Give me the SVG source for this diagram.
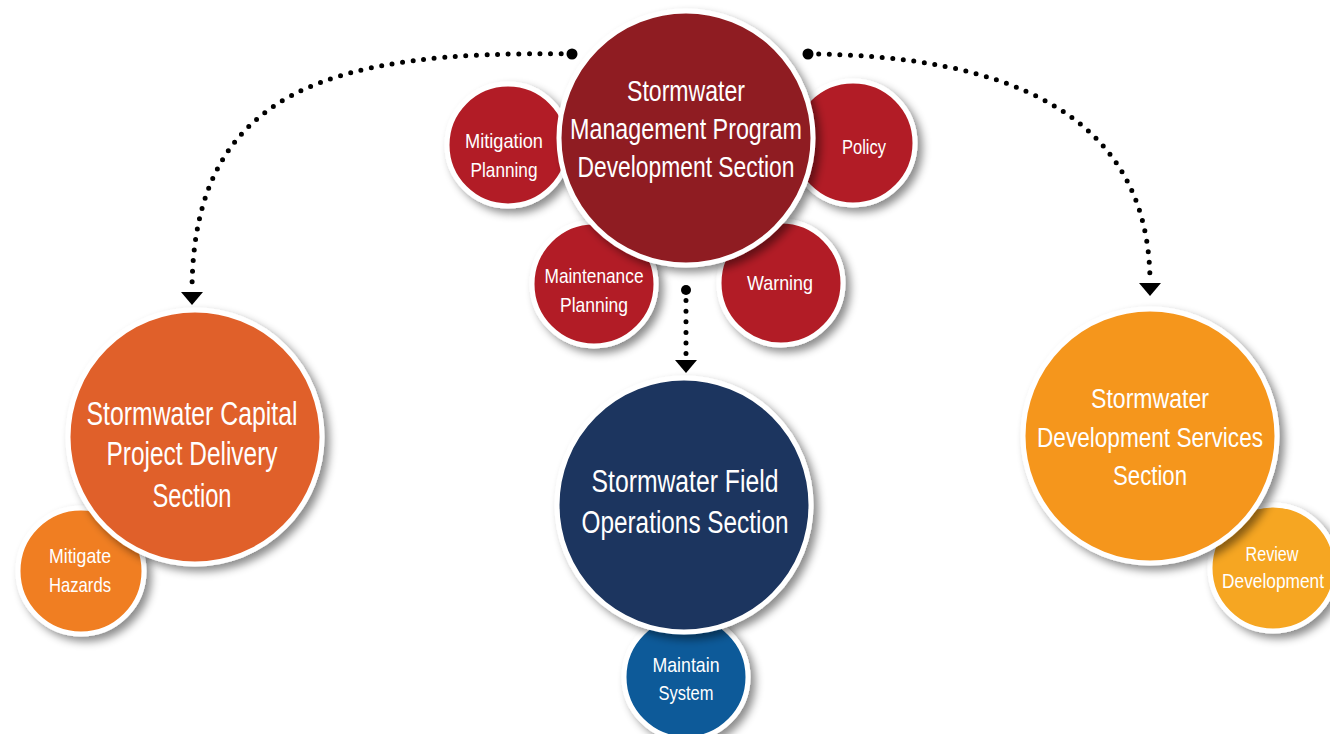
<svg xmlns="http://www.w3.org/2000/svg" width="1330" height="734" viewBox="0 0 1330 734">
<style>
.bub{stroke:#fff;stroke-width:5;filter:url(#sh)}
.t{font-family:"Liberation Sans",Arial,sans-serif;fill:#fff;text-anchor:middle}
.l{font-size:33px}
.b{font-size:31px}
.m{font-size:30px}
.r{font-size:27px}
.sm{font-size:21px}
.con{fill:none;stroke:#000;stroke-width:5;stroke-linecap:round;stroke-dasharray:0 10.6;marker-end:url(#ah)}
.dot{fill:#000}
</style>
<defs>
<filter id="sh" x="-20%" y="-20%" width="150%" height="150%">
<feDropShadow dx="5" dy="5" stdDeviation="4" flood-color="#000" flood-opacity="0.45"/>
</filter>
<marker id="ah" viewBox="0 0 13 22" refX="0" refY="11" markerWidth="13" markerHeight="22" markerUnits="userSpaceOnUse" orient="auto">
<path d="M0,0 L13,11 L0,22 z" fill="#000"/>
</marker>
</defs>

<g id="connectors">
<path class="con" d="M572,54 C330,50 192,90 192,292"/>
<path class="con" d="M808,54 C1000,55 1150,110 1150,283"/>
<path class="con" d="M686,290 L686,360"/>
<circle class="dot" cx="572" cy="54" r="5.5"/>
<circle class="dot" cx="808" cy="54" r="5.5"/>
<circle class="dot" cx="686" cy="290" r="5"/>
</g>

<g id="mitigation-planning">
<circle class="bub" cx="508" cy="145" r="61" fill="#B21E25"/>
<text class="t sm" x="504" y="148" textLength="78" lengthAdjust="spacingAndGlyphs">Mitigation</text>
<text class="t sm" x="504" y="177" textLength="67" lengthAdjust="spacingAndGlyphs">Planning</text>
</g>
<g id="policy">
<circle class="bub" cx="853" cy="143" r="62" fill="#B21E25"/>
<text class="t sm" x="864" y="154" textLength="44" lengthAdjust="spacingAndGlyphs">Policy</text>
</g>
<g id="maintenance-planning">
<circle class="bub" cx="594" cy="284" r="62" fill="#B21E25"/>
<text class="t sm" x="594" y="283" textLength="99" lengthAdjust="spacingAndGlyphs">Maintenance</text>
<text class="t sm" x="594" y="312" textLength="68" lengthAdjust="spacingAndGlyphs">Planning</text>
</g>
<g id="warning">
<circle class="bub" cx="781" cy="283" r="62" fill="#B21E25"/>
<text class="t sm" x="780" y="290" textLength="66" lengthAdjust="spacingAndGlyphs">Warning</text>
</g>
<g id="stormwater-management-program">
<circle class="bub" cx="686" cy="138" r="127" fill="#8F1D22"/>
<text class="t m" x="686" y="101" textLength="118" lengthAdjust="spacingAndGlyphs">Stormwater</text>
<text class="t m" x="686" y="139" textLength="232" lengthAdjust="spacingAndGlyphs">Management Program</text>
<text class="t m" x="686" y="177" textLength="217" lengthAdjust="spacingAndGlyphs">Development Section</text>
</g>

<g id="mitigate-hazards">
<circle class="bub" cx="81" cy="571" r="63" fill="#F07E22"/>
<text class="t sm" x="80" y="563" textLength="62" lengthAdjust="spacingAndGlyphs">Mitigate</text>
<text class="t sm" x="80" y="592" textLength="62" lengthAdjust="spacingAndGlyphs">Hazards</text>
</g>
<g id="stormwater-capital-project-delivery">
<circle class="bub" cx="195" cy="437" r="127" fill="#E0612A"/>
<text class="t l" x="192" y="425" textLength="211" lengthAdjust="spacingAndGlyphs">Stormwater Capital</text>
<text class="t l" x="192" y="465" textLength="171" lengthAdjust="spacingAndGlyphs">Project Delivery</text>
<text class="t l" x="192" y="507" textLength="79" lengthAdjust="spacingAndGlyphs">Section</text>
</g>

<g id="review-development">
<circle class="bub" cx="1273" cy="568" r="63" fill="#F6A622"/>
<text class="t sm" x="1272" y="561" textLength="53" lengthAdjust="spacingAndGlyphs">Review</text>
<text class="t sm" x="1273" y="588" textLength="102" lengthAdjust="spacingAndGlyphs">Development</text>
</g>
<g id="stormwater-development-services">
<circle class="bub" cx="1150" cy="436" r="127" fill="#F5961F"/>
<text class="t r" x="1150" y="408" textLength="118" lengthAdjust="spacingAndGlyphs">Stormwater</text>
<text class="t r" x="1150" y="447" textLength="226" lengthAdjust="spacingAndGlyphs">Development Services</text>
<text class="t r" x="1150" y="485" textLength="74" lengthAdjust="spacingAndGlyphs">Section</text>
</g>

<g id="maintain-system">
<circle class="bub" cx="686" cy="677" r="62" fill="#0B5A99"/>
<text class="t sm" x="686" y="672" textLength="67" lengthAdjust="spacingAndGlyphs">Maintain</text>
<text class="t sm" x="686" y="700" textLength="55" lengthAdjust="spacingAndGlyphs">System</text>
</g>
<g id="stormwater-field-operations">
<circle class="bub" cx="684" cy="505" r="127" fill="#1C355E"/>
<text class="t b" x="685" y="492" textLength="187" lengthAdjust="spacingAndGlyphs">Stormwater Field</text>
<text class="t b" x="685" y="533" textLength="207" lengthAdjust="spacingAndGlyphs">Operations Section</text>
</g>
</svg>
